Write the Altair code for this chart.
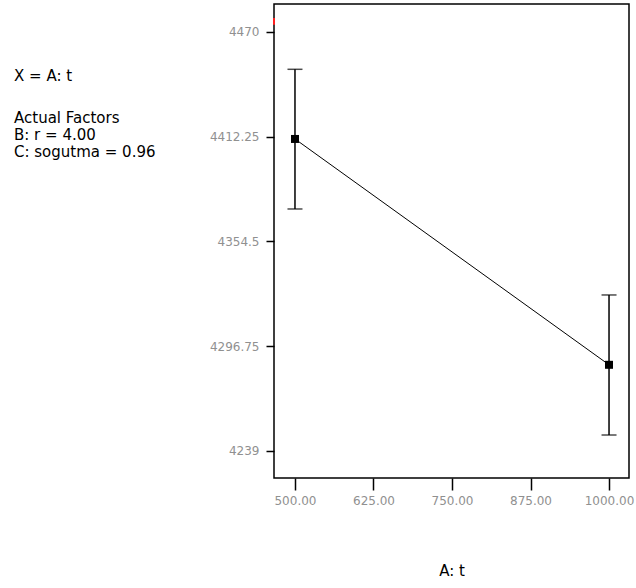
import altair as alt
import pandas as pd

# One-factor effect plot: response vs A: t with LSD error bars
t_levels = [500.0, 1000.0]
mean_resp = [4411.0, 4286.5]
lsd_low = [4372.4, 4247.8]
lsd_high = [4449.4, 4325.0]

y_ticks = [4239, 4296.75, 4354.5, 4412.25, 4470]
x_ticks = [500, 625, 750, 875, 1000]
x_domain = [466.6, 1031.8]
y_domain = [4224.1, 4485.4]

# slider marker on the left axis
marker_x = [466.6]
marker_lo = [4473.9]
marker_hi = [4477.7]

x_factor_label = "X = A: t"
factor_lines = ["Actual Factors", "B: r = 4.00", "C: sogutma = 0.96"]

df = pd.DataFrame({"t": t_levels, "mean": mean_resp, "lo": lsd_low, "hi": lsd_high})
marker_df = pd.DataFrame({"x": marker_x, "lo": marker_lo, "hi": marker_hi})
xlabel_df = pd.DataFrame({"txt": [x_factor_label]})
factors_df = pd.DataFrame({"txt": ["\n".join(factor_lines)]})

x_enc = alt.X(
    "t:Q",
    scale=alt.Scale(domain=x_domain, nice=False, zero=False),
    axis=alt.Axis(
        values=x_ticks, format=".2f", title="A: t",
        tickSize=12, labelPadding=5, titleY=92, titleBaseline="middle",
    ),
)
y_scale = alt.Scale(domain=y_domain, nice=False, zero=False)
y_axis = alt.Axis(values=y_ticks, labelExpr="'' + datum.value", title=None,
                  tickSize=8, labelPadding=7)

base = alt.Chart(df)

line = base.mark_line(color="black", strokeWidth=1).encode(
    x=x_enc, y=alt.Y("mean:Q", scale=y_scale, axis=y_axis)
)
bars = base.mark_rule(color="black", strokeWidth=1.5).encode(
    x="t:Q", y="lo:Q", y2="hi:Q"
)
cap_lo = base.mark_tick(color="black", orient="horizontal", size=15, thickness=1.5).encode(
    x="t:Q", y="lo:Q"
)
cap_hi = base.mark_tick(color="black", orient="horizontal", size=15, thickness=1.5).encode(
    x="t:Q", y="hi:Q"
)
points = base.mark_square(color="black", size=64, opacity=1).encode(
    x="t:Q", y="mean:Q"
)
marker = alt.Chart(marker_df).mark_rule(color="#ff2020", strokeWidth=2).encode(
    x="x:Q", y="lo:Q", y2="hi:Q"
)

text_style = dict(align="left", baseline="alphabetic", font="DejaVu Sans",
                  fontSize=15, color="black")
xlabel_text = alt.Chart(xlabel_df).mark_text(**text_style).encode(
    x=alt.value(-260), y=alt.value(77), text="txt:N"
)
factors_text = alt.Chart(factors_df).mark_text(
    lineBreak="\n", lineHeight=17, **text_style
).encode(
    x=alt.value(-260), y=alt.value(119), text="txt:N"
)

chart = alt.layer(
    line, bars, cap_lo, cap_hi, points, marker, xlabel_text, factors_text
).properties(
    width=355, height=474,
    autosize=alt.AutoSizeParams(type="none"),
    padding={"left": 274, "top": 4, "right": 7, "bottom": 110},
    background="white",
).configure_view(
    stroke="black", strokeWidth=1.5
).configure_axis(
    grid=False, domain=False, tickColor="black", tickWidth=1.5,
    labelColor="#909090", labelFont="DejaVu Sans", labelFontSize=12,
    titleColor="black", titleFont="DejaVu Sans", titleFontSize=15, titleFontWeight="normal",
)

chart.save("out.html", embed_options={"renderer": "svg", "actions": False})
